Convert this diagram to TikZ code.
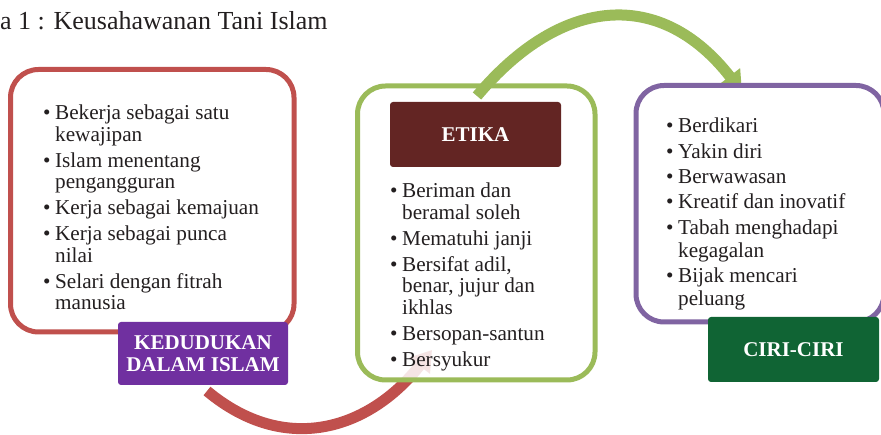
\documentclass[tikz,border=0pt]{standalone}
\usepackage{fontspec}
\setmainfont{Liberation Serif}
\usetikzlibrary{arrows.meta,calc}
\definecolor{cred}{HTML}{C0504D}
\definecolor{cgreen}{HTML}{9BBB59}
\definecolor{cpurple}{HTML}{8064A2}
\definecolor{ckd}{HTML}{7030A0}
\definecolor{cetika}{HTML}{632523}
\definecolor{cciri}{HTML}{106434}
\definecolor{ctext}{RGB}{35,31,32}
\newcommand{\bl}{\makebox[12pt][l]{•}}
\begin{document}
\begin{tikzpicture}[x=1pt,y=-1pt,
  frame/.style={line width=5pt, fill=white, rounded corners=28pt, inner sep=0pt},
  tag/.style={rounded corners=3pt, text=white, font=\bfseries\fontsize{21}{22}\selectfont, align=center, inner sep=0pt},
  list/.style={anchor=base west, inner sep=0pt, text=ctext, font=\fontsize{21.2}{21.5}\selectfont},
  band/.style={line width=11pt, -{Triangle[width=25pt,length=20pt]}}]
\useasboundingbox (0,0) rectangle (881,435);

% title
\node[anchor=base west, inner sep=0pt, text=ctext, font=\fontsize{26}{30}\selectfont] (title) at (0,30) {a 1 : Keusahawanan Tani Islam};

\coordinate (rs) at (207,391);
\coordinate (re) at (432,350);
\draw[band, cred] (rs) .. controls (285,456) and (369,430) .. (re);

\node[frame, draw=cred, minimum width=283.5pt, minimum height=262.5pt] (kb) at (152.25,200.75) {};
\node[tag, fill=ckd, minimum width=170pt, minimum height=63pt] (kd) at (203,353.5) {KEDUDUKAN\\DALAM ISLAM};

\node[frame, draw=cgreen, fill opacity=0.85, minimum width=237.5pt, minimum height=294pt] (eb) at (476.25,233) {};

\coordinate (gs) at (477,96);
\coordinate (ge) at (742,92);
\draw[band, cgreen] (gs) .. controls (562,-5) and (661,-12) .. (ge);

\node[tag, fill=cetika, minimum width=171pt, minimum height=65pt] (et) at (475.5,134.5) {ETIKA};

\node[frame, draw=cpurple, minimum width=248pt, minimum height=236.5pt] (cb) at (760,203.75) {};
\node[tag, fill=cciri, minimum width=171pt, minimum height=65pt] (ci) at (793.5,349.5) {CIRI-CIRI};

% lists
\node[list] (l1) at (43,120) {\begin{tabular}[t]{@{}l@{}l@{}}
\bl & Bekerja sebagai satu\\
    & kewajipan\\[4.5pt]
\bl & Islam menentang\\
    & pengangguran\\[4.5pt]
\bl & Kerja sebagai kemajuan\\[4.5pt]
\bl & Kerja sebagai punca\\
    & nilai\\[4.5pt]
\bl & Selari dengan fitrah\\
    & manusia
\end{tabular}};

\node[list] (l2) at (390,198) {\begin{tabular}[t]{@{}l@{}l@{}}
\bl & Beriman dan\\
    & beramal soleh\\[4.5pt]
\bl & Mematuhi janji\\[4.5pt]
\bl & Bersifat adil,\\
    & benar, jujur dan\\
    & ikhlas\\[4.5pt]
\bl & Bersopan-santun\\[4.5pt]
\bl & Bersyukur
\end{tabular}};

\node[list, font=\fontsize{21.2}{23}\selectfont] (l3) at (666,133) {\begin{tabular}[t]{@{}l@{}l@{}}
\bl & Berdikari\\[2.3pt]
\bl & Yakin diri\\[2.3pt]
\bl & Berwawasan\\[2.3pt]
\bl & Kreatif dan inovatif\\[2.3pt]
\bl & Tabah menghadapi\\
    & kegagalan\\[2.3pt]
\bl & Bijak mencari\\
    & peluang
\end{tabular}};
\end{tikzpicture}
\end{document}
